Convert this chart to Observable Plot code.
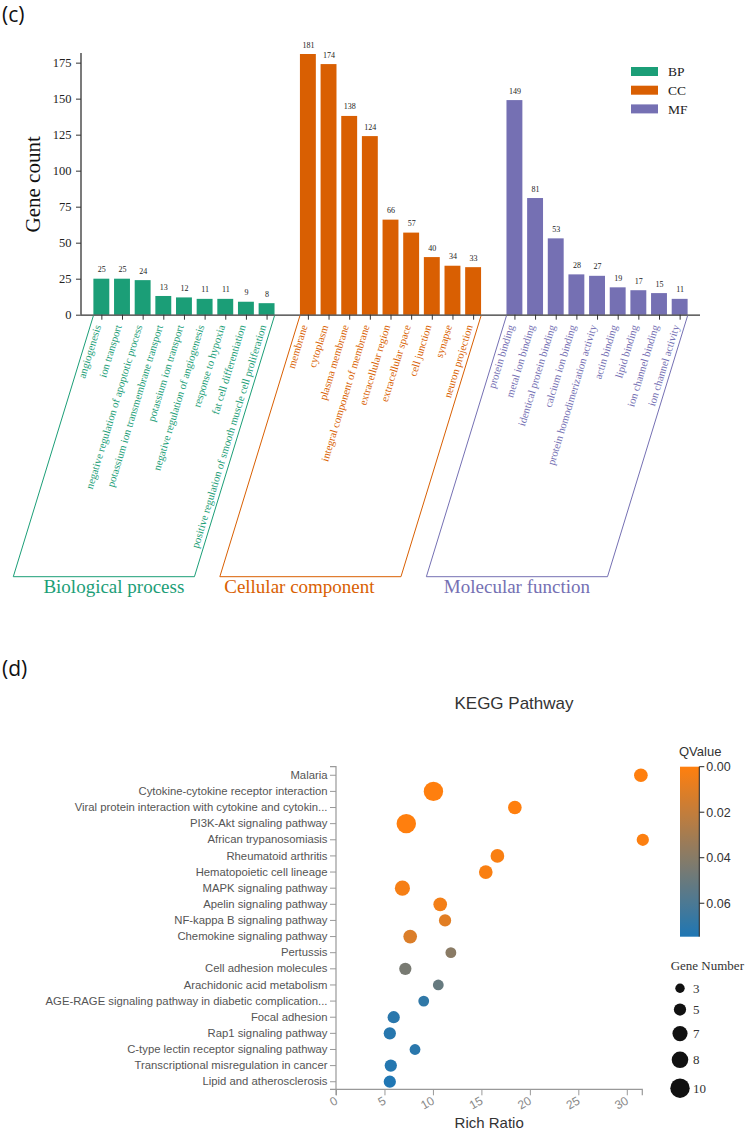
<!DOCTYPE html>
<html><head><meta charset="utf-8">
<script src="https://cdn.jsdelivr.net/npm/d3@7"></script>
<script src="https://cdn.jsdelivr.net/npm/@observablehq/plot@0.6"></script>
<style>
body{margin:0;background:#fff;}
#page{position:relative;width:751px;height:1134px;overflow:hidden;background:#fff;}
.tag{position:absolute;left:2px;font-family:"Open Sans",sans-serif;font-size:21px;line-height:26px;color:#111;}
</style></head><body><div id="page">
<div class="tag" style="top:1px">(c)</div>
<div class="tag" style="top:655px">(d)</div>
</div>
<script>
// ---------------- Data: GO enrichment (panel c) ----------------
const bpTerms = ["angiogenesis","ion transport","negative regulation of apoptotic process","potassium ion transmembrane transport","potassium ion transport","negative regulation of angiogenesis","response to hypoxia","fat cell differentiation","positive regulation of smooth muscle cell proliferation"];
const bpCounts = [25,25,24,13,12,11,11,9,8];
const ccTerms = ["membrane","cytoplasm","plasma membrane","integral component of membrane","extracellular region","extracellular space","cell junction","synapse","neuron projection"];
const ccCounts = [181,174,138,124,66,57,40,34,33];
const mfTerms = ["protein binding","metal ion binding","identical protein binding","calcium ion binding","protein homodimerization activity","actin binding","lipid binding","ion channel binding","ion channel activity"];
const mfCounts = [149,81,53,28,27,19,17,15,11];
const groupKeys = ["BP","CC","MF"];
const groupNames = ["Biological process","Cellular component","Molecular function"];
const groupColors = ["#1b9e77","#d95f02","#7570b3"];
const countTicks = [0,25,50,75,100,125,150,175];

// ---------------- Data: KEGG pathway (panel d) ----------------
const keggNames = ["Malaria","Cytokine-cytokine receptor interaction","Viral protein interaction with cytokine and cytokin...","PI3K-Akt signaling pathway","African trypanosomiasis","Rheumatoid arthritis","Hematopoietic cell lineage","MAPK signaling pathway","Apelin signaling pathway","NF-kappa B signaling pathway","Chemokine signaling pathway","Pertussis","Cell adhesion molecules","Arachidonic acid metabolism","AGE-RAGE signaling pathway in diabetic complication...","Focal adhesion","Rap1 signaling pathway","C-type lectin receptor signaling pathway","Transcriptional misregulation in cancer","Lipid and atherosclerosis"];
const richRatio = [31.4,10.0,18.4,7.2,31.6,16.6,15.4,6.8,10.7,11.2,7.6,11.8,7.1,10.5,9.0,5.9,5.5,8.1,5.6,5.5];
const geneNumber = [6,10,6,10,5,6,6,7,6,5,6,4,5,4,4,5,5,4,5,5];
const qValue = [0,0,0,0,0.001,0.002,0.002,0.003,0.004,0.010,0.012,0.039,0.045,0.051,0.069,0.071,0.072,0.071,0.073,0.0745];
const ratioTicks = [0,5,10,15,20,25,30];
const qTicks = [0,0.02,0.04,0.06];
const sizeLegendValues = [3,5,7,8,10];

const SERIF = '"Liberation Serif","Times New Roman",serif';
const SANS = '"Liberation Sans",Arial,Helvetica,sans-serif';
const page = document.getElementById("page");

// ================= Panel (c) =================
const goRows = [];
[[bpTerms,bpCounts],[ccTerms,ccCounts],[mfTerms,mfCounts]].forEach(([terms,counts],gi)=>{
  terms.forEach((t,i)=>goRows.push({term:t,count:counts[i],group:groupKeys[gi]}));
});
const slotDomain = [...bpTerms,"gap-1",...ccTerms,"gap-2",...mfTerms];
const allTerms = [...bpTerms,...ccTerms,...mfTerms];
const labelAngle = 73;

const H1 = 612;
const goPlot = Plot.plot({
  width: 751, height: H1,
  marginLeft: 81, marginRight: 51, marginTop: 54, marginBottom: H1 - 314.7,
  style: {fontFamily: SERIF, background: "transparent", overflow: "visible"},
  x: {type: "band", domain: slotDomain, paddingInner: 0.23, paddingOuter: 0.6, round: false, axis: null},
  y: {domain: [0, 181], axis: null},
  color: {domain: groupKeys, range: groupColors},
  marks: [
    Plot.barY(goRows, {x: "term", y: "count", fill: "group"}),
    Plot.ruleY([0], {stroke: "#333", strokeWidth: 1.3}),
    Plot.axisY({ticks: countTicks, tickSize: 5, tickPadding: 5, fontSize: 12.5, fontFamily: SERIF, fill: "#222", stroke: "#333", label: null}),
    Plot.axisX({ticks: allTerms, tickSize: 5, tickFormat: () => "", stroke: "#333", label: null}),
    Plot.text(goRows, {x: "term", y: "count", text: d => String(d.count), dy: -9.5, fontSize: 8, fontFamily: SERIF, fill: "#222"}),
    Plot.text(goRows, {x: "term", y: () => 0, text: "term", rotate: -labelAngle, textAnchor: "end", dx: -4, dy: 10, fontSize: 10.7, fontFamily: SERIF, fill: "group"})
  ]
});
goPlot.style.position = "absolute"; goPlot.style.left = "0px"; goPlot.style.top = "0px";
page.appendChild(goPlot);

(function decorateGO(){
  const gx = goPlot.scale("x"), gy = goPlot.scale("y"), gc = goPlot.scale("color");
  const sel = d3.select(goPlot);
  const y0 = gy.apply(0), yTop = gy.apply(gy.domain[1]);
  sel.append("line").attr("x1", gx.range[0]).attr("x2", gx.range[0]).attr("y1", y0).attr("y2", yTop - 1)
    .attr("stroke", "#333").attr("stroke-width", 1.3);
  // bracket boxes
  const boxDepth = 262, shear = boxDepth / Math.tan(labelAngle * Math.PI / 180);
  const titleShift = [10, -11, 0];
  [bpTerms, ccTerms, mfTerms].forEach((terms, gi) => {
    const xa = gx.apply(terms[0]), xb = gx.apply(terms[terms.length - 1]) + gx.bandwidth;
    const yb = y0 + boxDepth;
    const col = gc.apply(groupKeys[gi]);
    sel.append("path").attr("d", `M${xa},${y0 + 1}L${xa - shear},${yb}L${xb - shear},${yb}L${xb},${y0 + 1}`)
      .attr("fill", "none").attr("stroke", col).attr("stroke-width", 1);
    sel.append("text").attr("x", (xa + xb) / 2 - shear + titleShift[gi]).attr("y", yb + 10).attr("dy", "0.35em")
      .attr("text-anchor", "middle").attr("font-family", SERIF).attr("font-size", 19).attr("fill", col).text(groupNames[gi]);
  });
  // y label
  sel.append("text").attr("transform", `translate(33,${(y0 + yTop) / 2}) rotate(-90)`).attr("text-anchor", "middle")
    .attr("dy", "0.35em").attr("font-family", SERIF).attr("font-size", 21).attr("fill", "#111").text("Gene count");
  // legend
  const lg = sel.append("g").attr("transform", "translate(631,67)");
  groupKeys.forEach((k, i) => {
    lg.append("rect").attr("x", 0).attr("y", i * 18.7).attr("width", 27).attr("height", 9).attr("fill", gc.apply(k));
    lg.append("text").attr("x", 37).attr("y", i * 18.7 + 4.5).attr("dy", "0.35em").attr("text-anchor", "start")
      .attr("font-family", SERIF).attr("font-size", 13.5).attr("fill", "#222").text(k);
  });
})();

// ================= Panel (d) =================
const T2 = 620, H2 = 514;
const keggRows = keggNames.map((name, i) => ({name, ratio: richRatio[i], genes: geneNumber[i], q: qValue[i]}));
const keggPlot = Plot.plot({
  width: 751, height: H2,
  marginTop: 146.7, marginBottom: 44.7, marginLeft: 336, marginRight: 108.7,
  style: {fontFamily: SANS, background: "transparent", overflow: "visible"},
  x: {domain: [0, 31.6], axis: null},
  y: {type: "point", domain: keggNames, padding: 0.5, round: false, axis: null},
  r: {type: "linear", domain: [3, 10], range: [4.7, 9.7]},
  color: {type: "linear", domain: [0, 0.0747], range: ["#ff7f0e", "#1f77b4"], interpolate: "rgb"},
  marks: [
    Plot.axisY({tickSize: 6, tickPadding: 3, fontSize: 11.3, fontFamily: SANS, fill: "#555", stroke: "#999", label: null}),
    Plot.axisX({ticks: ratioTicks, tickSize: 6, tickPadding: 4, tickRotate: -30, fontSize: 12, fontFamily: SANS, fill: "#888", stroke: "#999", label: null}),
    Plot.dot(keggRows, {x: "ratio", y: "name", r: "genes", fill: "q"})
  ]
});
keggPlot.style.position = "absolute"; keggPlot.style.left = "0px"; keggPlot.style.top = T2 + "px";
page.appendChild(keggPlot);

(function decorateKEGG(){
  const kx = keggPlot.scale("x"), ky = keggPlot.scale("y"), kc = keggPlot.scale("color"), kr = keggPlot.scale("r");
  const sel = d3.select(keggPlot);
  const fx0 = kx.range[0], fx1 = kx.range[1], fy0 = ky.range[0], fy1 = ky.range[1];
  sel.append("path").attr("d", `M${fx0 - 6},${fy0}H${fx0}V${fy1}H${fx0 - 6}M${fx0},${fy1 + 6}V${fy1}H${fx1}V${fy1 + 6}`)
    .attr("fill", "none").attr("stroke", "#999").attr("stroke-width", 1.2);
  // title & x label
  sel.append("text").attr("x", 514).attr("y", 703 - T2).attr("dy", "0.35em").attr("text-anchor", "middle")
    .attr("font-family", SANS).attr("font-size", 17).attr("fill", "#333").text("KEGG Pathway");
  sel.append("text").attr("x", (fx0 + fx1) / 2).attr("y", 1123 - T2).attr("dy", "0.35em").attr("text-anchor", "middle")
    .attr("font-family", SANS).attr("font-size", 15).attr("fill", "#333").text("Rich Ratio");
  // color bar
  const cbX = 680, cbW = 19.3, cbH = 170;
  const cbScale = Plot.scale({y: {domain: kc.domain, range: [fy0, fy0 + cbH]}});
  const defs = sel.append("defs");
  const grad = defs.append("linearGradient").attr("id", "qgrad").attr("x1", 0).attr("y1", 0).attr("x2", 0).attr("y2", 1);
  d3.range(0, 1.0001, 0.05).forEach(t => {
    grad.append("stop").attr("offset", t).attr("stop-color", kc.apply(kc.domain[0] + t * (kc.domain[1] - kc.domain[0])));
  });
  sel.append("rect").attr("x", cbX).attr("y", fy0).attr("width", cbW).attr("height", cbH).attr("fill", "url(#qgrad)");
  sel.append("line").attr("x1", cbX + cbW).attr("x2", cbX + cbW).attr("y1", fy0).attr("y2", fy0 + cbH).attr("stroke", "#222");
  qTicks.forEach(v => {
    const yy = cbScale.apply(v);
    sel.append("line").attr("x1", cbX + cbW).attr("x2", cbX + cbW + 5).attr("y1", yy).attr("y2", yy).attr("stroke", "#222");
    sel.append("text").attr("x", cbX + cbW + 7).attr("y", yy).attr("dy", "0.35em").attr("text-anchor", "start")
      .attr("font-family", SANS).attr("font-size", 12.5).attr("fill", "#333").text(d3.format(".2f")(v));
  });
  sel.append("text").attr("x", 679).attr("y", 751.7 - T2).attr("dy", "0.35em").attr("text-anchor", "start")
    .attr("font-family", SANS).attr("font-size", 13).attr("fill", "#333").text("QValue");
  // size legend
  sel.append("text").attr("x", 670.7).attr("y", 965.7 - T2).attr("dy", "0.35em").attr("text-anchor", "start")
    .attr("font-family", SERIF).attr("font-size", 13).attr("fill", "#333").text("Gene Number");
  let yy = 988.3 - T2;
  sizeLegendValues.forEach((v, i) => {
    if (i > 0) yy += kr.apply(sizeLegendValues[i - 1]) + kr.apply(v) + 10.4;
    sel.append("circle").attr("cx", 680).attr("cy", yy).attr("r", kr.apply(v)).attr("fill", "#111");
    sel.append("text").attr("x", 693).attr("y", yy).attr("dy", "0.35em").attr("text-anchor", "start")
      .attr("font-family", SERIF).attr("font-size", 13).attr("fill", "#333").text(v);
  });
})();
</script>
</body></html>
